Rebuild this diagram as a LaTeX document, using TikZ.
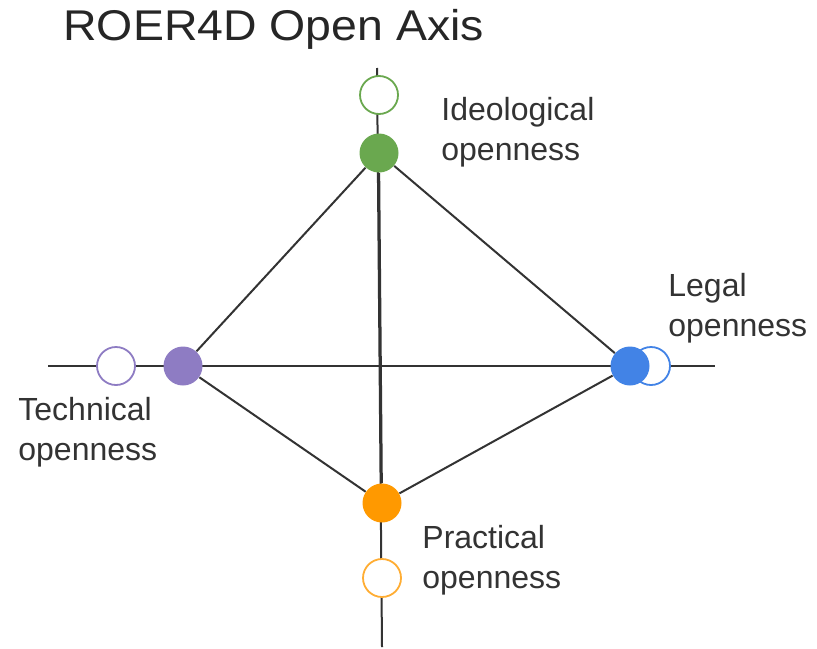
\documentclass[tikz,border=0pt]{standalone}
\usepackage{fontspec}
\setmainfont{Liberation Sans}
\usetikzlibrary{
  backgrounds,
  positioning,
}
\definecolor{ideogreen}{HTML}{6AA84F}
\definecolor{techpurple}{HTML}{8E7CC3}
\definecolor{legalblue}{HTML}{4283E6}
\definecolor{pracorange}{HTML}{FF9900}
\definecolor{axisgray}{HTML}{333333}
\tikzset{
  dot/.style={circle, minimum size=19.5pt, inner sep=0pt, fill=#1},
  ring/.style={circle, minimum size=19pt, inner sep=0pt, draw=#1,
    line width=0.9pt, fill=white},
  axisline/.style={line width=1pt, draw=axisgray},
  axislabel/.style={align=left, font=\fontsize{16}{20}\selectfont,
    text=black!80, inner sep=0pt},
}

\begin{document}
\begin{tikzpicture}[x=0.5pt, y=-0.5pt]
  \useasboundingbox (0,0) rectangle (817,648);

  \node[anchor=base west, inner sep=0pt, text=black!85,
    font=\fontsize{21.5}{24}\selectfont] (title) at (63,40)
    {\scalebox{1.08}[1]{ROER4D Open Axis}};

  % ends of the two axes
  \coordinate (axis n) at (377,68);
  \coordinate (axis s) at (382,647);
  \coordinate (axis w) at (48,366);
  \coordinate (axis e) at (715,366);

  % open positions
  \node[ring=ideogreen]   (ideo open)  at (379,95)  {};
  \node[ring=techpurple]  (tech open)  at (116,366) {};
  \node[ring=legalblue]   (legal open) at (651,366) {};
  \node[ring=pracorange!80] (prac open) at (382,578) {};

  % filled positions
  \node[dot=ideogreen]  (ideo)  at (379,153) {};
  \node[dot=techpurple] (tech)  at (183,366) {};
  \node[dot=legalblue]  (legal) at (630,366) {};
  \node[dot=pracorange] (prac)  at (382,503) {};

  \node[axislabel, anchor=west] (ideo text)  at (441,132) {Ideological\\openness};
  \node[axislabel, anchor=west] (legal text) at (668,308) {Legal\\openness};
  \node[axislabel, anchor=west] (tech text)  at (18,432)  {Technical\\openness};
  \node[axislabel, anchor=west] (prac text)  at (422,560) {Practical\\openness};

  \begin{pgfonlayer}{background}
    \draw[axisline] (axis w) -- (axis e);
    \draw[axisline] (axis n) -- (axis s);
    \foreach \a/\b in {ideo/tech, ideo/legal, tech/prac, legal/prac,
                       ideo/prac, tech/legal} {
      \draw[axisline] (\a) -- (\b);
    }
  \end{pgfonlayer}
\end{tikzpicture}
\end{document}
